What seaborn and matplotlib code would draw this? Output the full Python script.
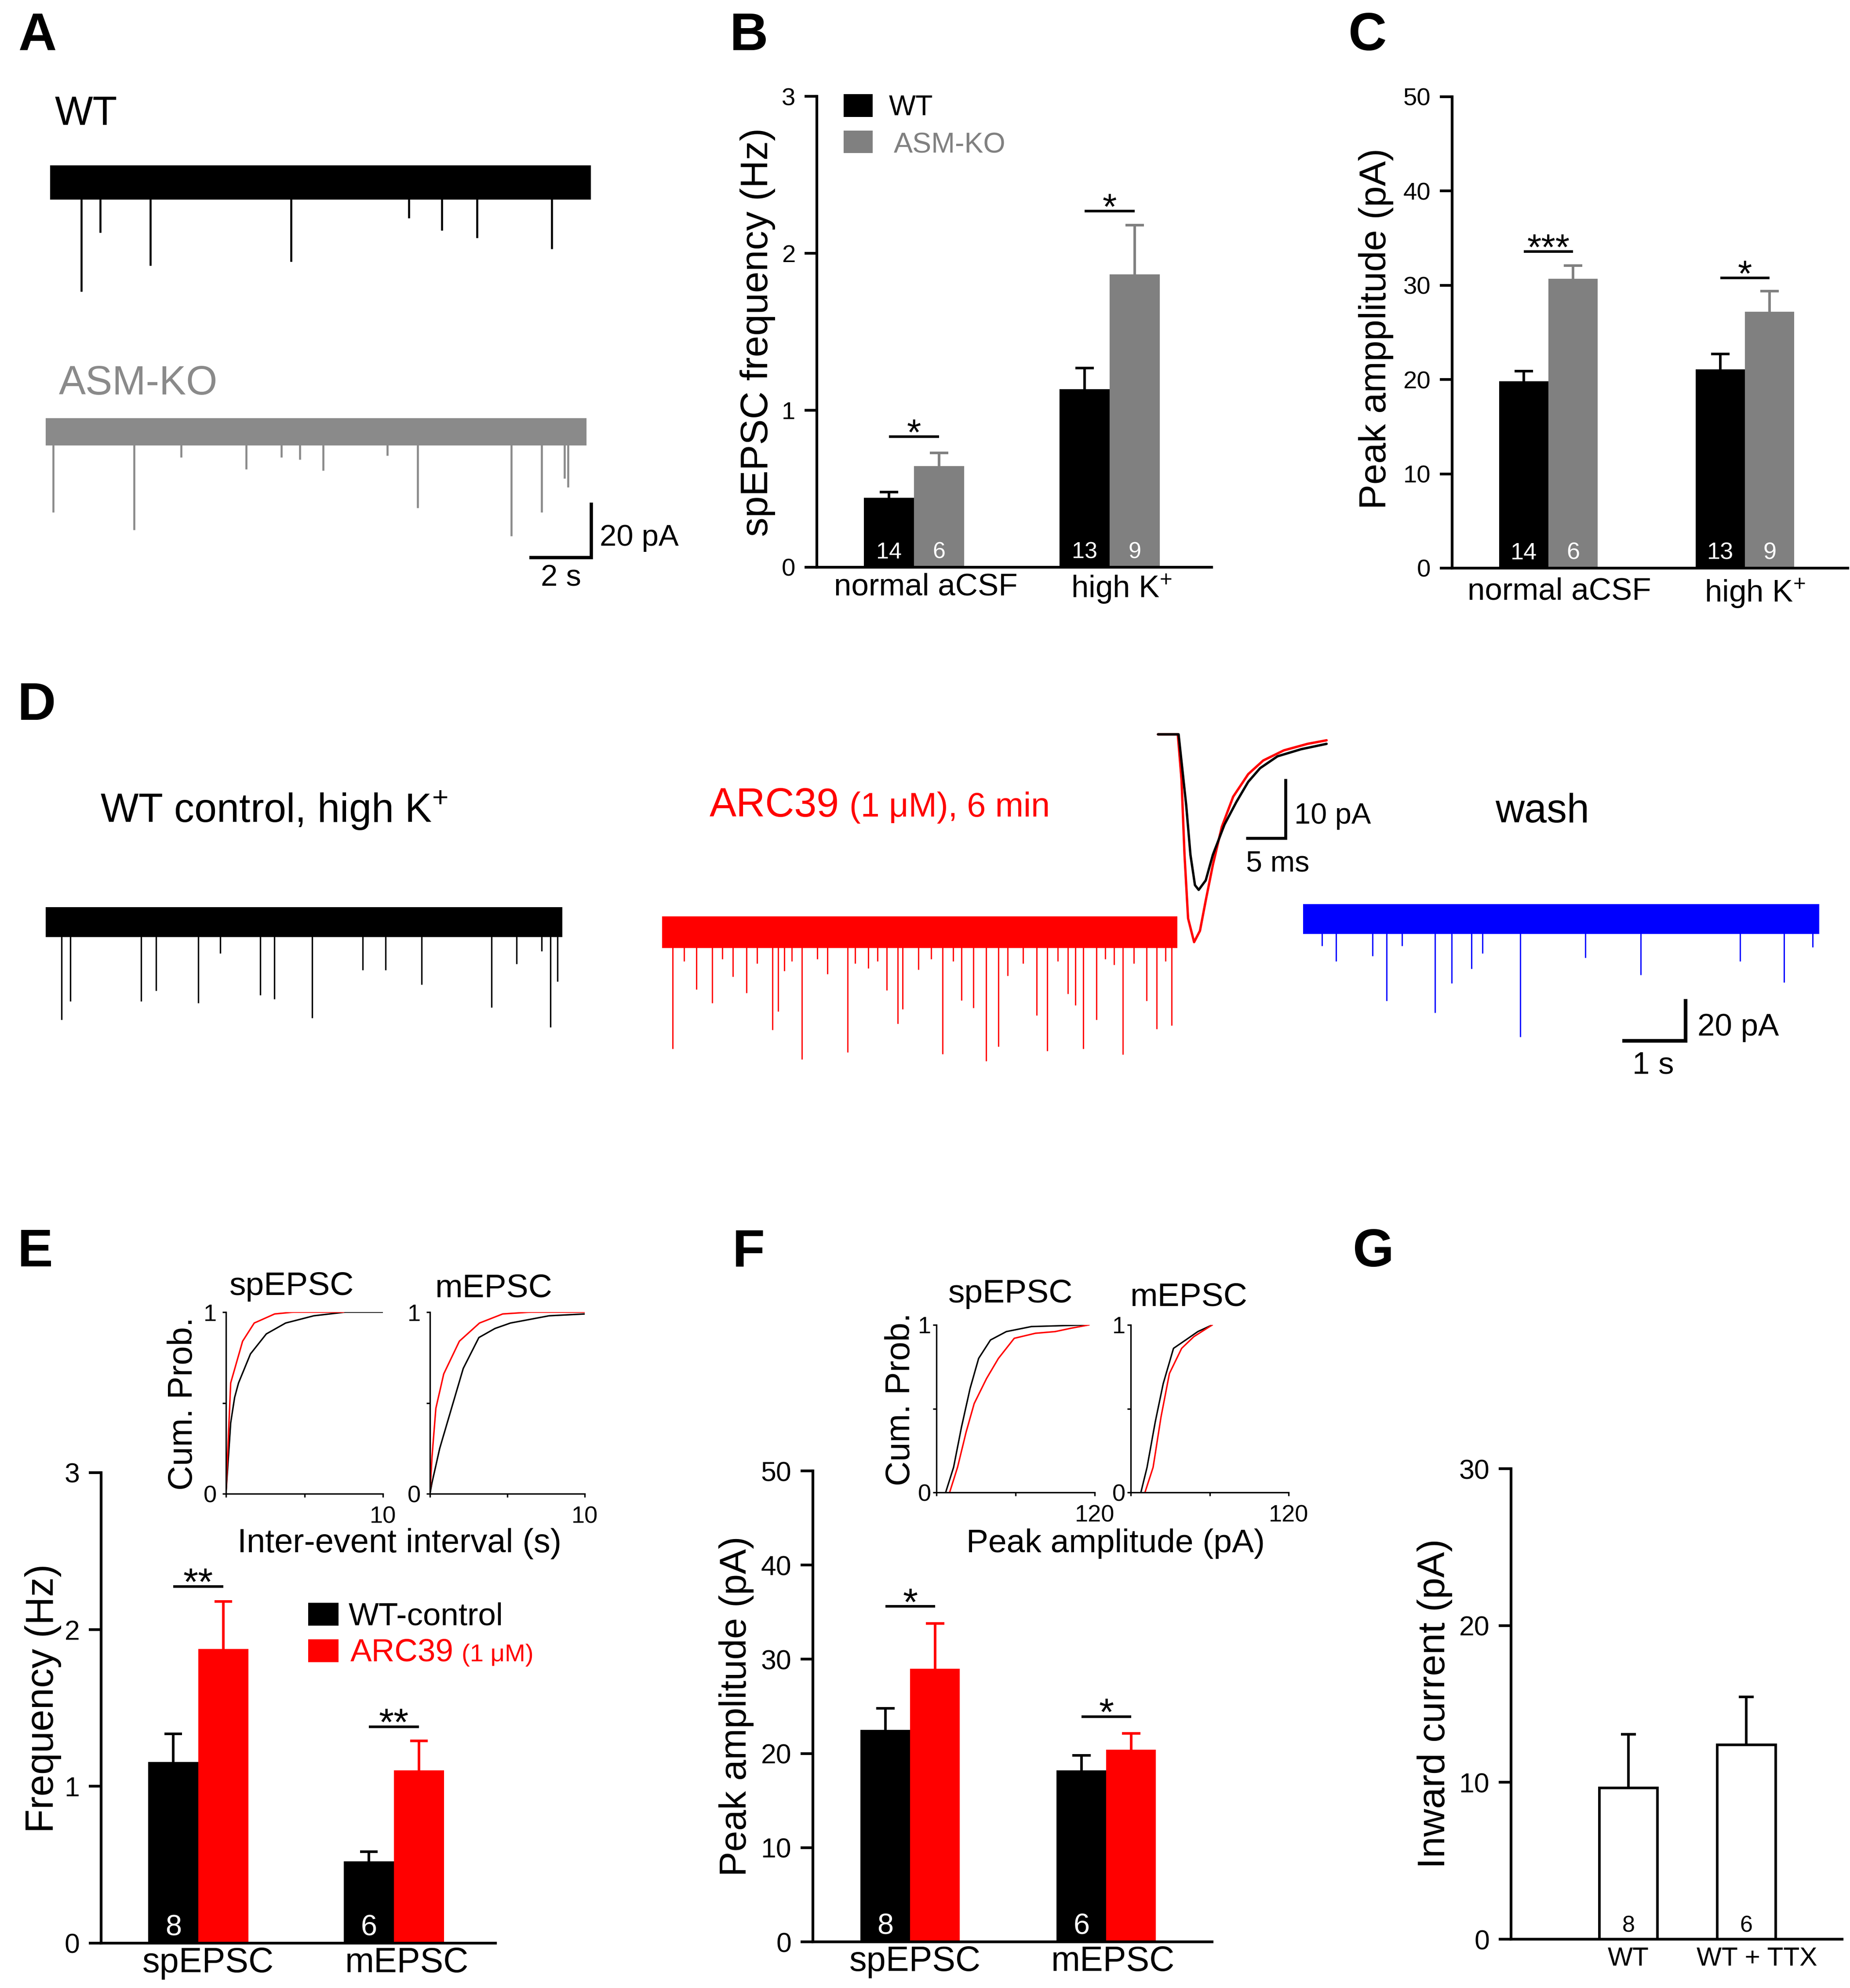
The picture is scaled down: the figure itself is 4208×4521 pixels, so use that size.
import numpy as np
import pandas as pd
import matplotlib
matplotlib.use("Agg")
import matplotlib.pyplot as plt
from matplotlib.patches import Rectangle
from matplotlib import font_manager
import seaborn as sns

# ======================= DATA =======================
# Panel A: spontaneous EPSC traces (time in s, event amplitude in pA below baseline)
A_DURATION_S = [17.45, 17.45]
A_NOISE_PA = [6.3, 5.0]
A_WT_T = [1.00, 1.61, 3.24, 7.78, 11.57, 12.64, 13.78, 16.19]
A_WT_AMP = [39.6, 18.2, 30.2, 28.8, 13.0, 17.5, 20.2, 24.2]
A_KO_T = [0.24, 2.86, 4.37, 6.47, 7.61, 8.20, 8.96, 11.03, 12.01, 15.03, 16.01, 16.74, 16.85]
A_KO_AMP = [29.3, 35.7, 9.3, 13.6, 9.3, 10.0, 14.0, 8.6, 27.6, 37.9, 29.3, 16.9, 20.1]

# Panel B: spEPSC frequency (Hz)
B_COND = ["normal aCSF", r"high K$^{+}$"]
B_GENO = ["WT", "ASM-KO"]
B_WT_MEAN = [0.443, 1.134]
B_WT_SEM = [0.037, 0.135]
B_KO_MEAN = [0.644, 1.866]
B_KO_SEM = [0.084, 0.314]
B_WT_N = ["14", "13"]
B_KO_N = ["6", "9"]
B_SIG = ["*", "*"]
B_SIG_Y = [0.832, 2.27]

# Panel C: peak amplitude (pA)
C_WT_MEAN = [19.8, 21.1]
C_WT_SEM = [1.1, 1.6]
C_KO_MEAN = [30.7, 27.2]
C_KO_SEM = [1.4, 2.2]
C_SIG = ["***", "*"]
C_SIG_Y = [33.6, 30.8]

# Panel D: traces (s, pA)
D_DURATION_S = [8.16, 8.14, 8.15]
D_NOISE_PA = [7.2, 7.6, 7.2]
D_CTRL_T = [0.25, 0.39, 1.51, 1.74, 2.41, 2.76, 3.39, 3.61, 4.21, 5.01, 5.37, 5.94, 7.04, 7.44, 7.83, 7.97, 8.08]
D_CTRL_AMP = [47, 38, 38, 33, 39, 15, 35, 37, 46, 23, 23, 30, 41, 20, 14, 50.5, 28.5]
D_ARC_T = [0.17, 0.35, 0.54, 0.79, 0.95, 1.12, 1.33, 1.50, 1.74, 1.83, 1.93, 2.05, 2.21, 2.45, 2.61,
           2.93, 3.05, 3.26, 3.40, 3.55, 3.72, 3.80, 4.05, 4.25, 4.43, 4.60, 4.73, 4.92, 5.12, 5.31,
           5.46, 5.70, 5.92, 6.08, 6.25, 6.41, 6.53, 6.65, 6.86, 7.00, 7.14, 7.28, 7.45, 7.65, 7.81,
           7.95, 8.05]
D_ARC_AMP = [56, 14, 27.4, 34, 13, 21.4, 29.2, 15, 47, 38, 18.6, 14, 61, 13, 20,
             57.7, 15, 17.3, 14, 28, 44, 37, 18, 13, 58.6, 14, 32.7, 36.4, 62, 55,
             21, 15, 40, 57, 14, 29.6, 35, 56, 42, 13, 15.6, 58.8, 15, 33, 46.5,
             14, 44.8]
D_WASH_T = [0.30, 0.52, 1.10, 1.32, 1.56, 2.08, 2.35, 2.66, 2.83, 3.43, 4.46, 5.33, 6.90, 7.60, 8.05]
D_WASH_AMP = [12.9, 20.4, 17.8, 39.3, 12.9, 45, 30.9, 23.9, 16.5, 56.7, 18.7, 26.8, 20.2, 30.4, 13.5]
# averaged EPSC (ms, pA)
EPSC_CTRL_MS = [0, 2.6, 3.56, 4.1, 4.67, 5.14, 6.03, 6.93, 8.4, 9.9, 11.4, 12.9, 15.1, 18.1, 21.3]
EPSC_CTRL_PA = [0, 0, -11.9, -20.3, -25.4, -26.2, -24.6, -20.3, -15.2, -11.4, -8.0, -5.7, -3.7, -2.5, -1.6]
EPSC_ARC_MS = [0, 2.5, 2.97, 3.35, 3.8, 4.56, 5.3, 6.03, 6.93, 8.06, 9.5, 11.4, 13.3, 15.9, 18.9, 21.3]
EPSC_ARC_PA = [0, 0, -7.6, -20.3, -31.0, -35.0, -33.1, -28.0, -22.0, -15.6, -10.5, -6.7, -4.4, -2.7, -1.6, -1.0]

# Panel E: frequency (Hz)
E_COND = ["spEPSC", "mEPSC"]
E_TREAT = ["WT-control", "ARC39"]
E_CTRL_MEAN = [1.155, 0.521]
E_CTRL_SEM = [0.179, 0.063]
E_ARC_MEAN = [1.877, 1.102]
E_ARC_SEM = [0.301, 0.188]
E_N = ["8", "6"]
E_SIG = ["**", "**"]
E_SIG_Y = [2.274, 1.38]
# cumulative inter-event interval (s, probability)
E_SP_CTRL_X = [0, 0.3, 0.55, 0.8, 1.56, 2.57, 3.8, 5.6, 7.6, 10]
E_SP_CTRL_Y = [0, 0.39, 0.53, 0.61, 0.77, 0.88, 0.94, 0.98, 1.0, 1.0]
E_SP_ARC_X = [0, 0.3, 1.06, 1.8, 3.1, 4.3, 7.5]
E_SP_ARC_Y = [0, 0.61, 0.84, 0.94, 0.99, 1.0, 1.0]
E_M_CTRL_X = [0, 0.13, 0.63, 1.39, 2.15, 3.16, 4.2, 5.2, 7.7, 10]
E_M_CTRL_Y = [0, 0.06, 0.25, 0.47, 0.69, 0.86, 0.91, 0.94, 0.98, 0.99]
E_M_ARC_X = [0, 0.13, 0.38, 0.89, 1.9, 3.2, 4.7, 6.5, 10]
E_M_ARC_Y = [0, 0.2, 0.47, 0.66, 0.84, 0.94, 0.99, 1.0, 1.0]

# Panel F: peak amplitude (pA)
F_CTRL_MEAN = [22.5, 18.2]
F_CTRL_SEM = [2.3, 1.6]
F_ARC_MEAN = [29.0, 20.4]
F_ARC_SEM = [4.8, 1.75]
F_N = ["8", "6"]
F_SIG = ["*", "*"]
F_SIG_Y = [35.6, 23.9]
F_SP_CTRL_X = [7, 13, 19, 25.5, 32, 41, 53, 72, 115]
F_SP_CTRL_Y = [0, 0.15, 0.39, 0.62, 0.80, 0.91, 0.96, 0.99, 1.0]
F_SP_ARC_X = [10, 16, 22.5, 28.6, 38, 47, 59, 75, 90, 102, 115.7]
F_SP_ARC_Y = [0, 0.15, 0.36, 0.53, 0.68, 0.80, 0.92, 0.95, 0.96, 0.98, 1.0]
F_M_CTRL_X = [7.7, 12.4, 18.6, 24.7, 32.5, 41.8, 51, 62]
F_M_CTRL_Y = [0, 0.15, 0.42, 0.65, 0.86, 0.91, 0.96, 1.0]
F_M_ARC_X = [10.8, 17, 23, 29.4, 38.7, 48, 62]
F_M_ARC_Y = [0, 0.15, 0.45, 0.71, 0.86, 0.93, 1.0]

# Panel G: inward current (pA)
G_COND = ["WT", "WT + TTX"]
G_MEAN = [9.64, 12.4]
G_SEM = [3.42, 3.04]
G_N = ["8", "6"]

# ======================= STYLE =======================
sns.set_theme(style="ticks", rc={"text.color": "black", "axes.labelcolor": "black",
                                 "xtick.color": "black", "ytick.color": "black",
                                 "axes.edgecolor": "black"})
plt.rcParams["font.family"] = ["Liberation Sans", "DejaVu Sans"]
plt.rcParams["mathtext.fontset"] = "custom"
plt.rcParams["mathtext.rm"] = "Liberation Sans"
plt.rcParams["mathtext.it"] = "Liberation Sans:italic"
plt.rcParams["mathtext.bf"] = "Liberation Sans:bold"

BLACK = "#000000"
GRAY = "#808080"
TRACE_GRAY = "#8a8a8a"
RED = "#ff0000"
BLUE = "#0000ff"

W, H = 4208, 4521
fig = plt.figure(figsize=(W / 300, H / 300), dpi=300)
fig.patch.set_facecolor("white")


def px_axes(x0, y0, x1, y1):
    return fig.add_axes([x0 / W, 1 - y1 / H, (x1 - x0) / W, (y1 - y0) / H])


def ftext(x, y, s, size, **kw):
    kw.setdefault("ha", "left")
    kw.setdefault("va", "baseline")
    return fig.text(x / W, 1 - y / H, s, fontsize=size, **kw)


def frect(x0, y0, x1, y1, color):
    fig.add_artist(Rectangle((x0 / W, 1 - y1 / H), (x1 - x0) / W, (y1 - y0) / H,
                             transform=fig.transFigure, facecolor=color, edgecolor="none"))


def trace_ax(rect, origin, ppx, ppy):
    x0, y0, x1, y1 = rect
    ox, oy = origin
    ax = px_axes(x0, y0, x1, y1)
    ax.set_xlim((x0 - ox) / ppx, (x1 - ox) / ppx)
    ax.set_ylim((oy - y1) / ppy, (oy - y0) / ppy)
    ax.axis("off")
    return ax


def draw_trace(ax, dur, noise, ev_t, ev_amp, color, lw):
    ax.fill_between([0, dur], [-noise, -noise], [noise, noise], color=color, lw=0)
    ax.vlines(ev_t, 0, -np.asarray(ev_amp, dtype=float), color=color, lw=lw, clip_on=False)


def scalebar(ax, x_end, y_top, dx, dy, lw):
    ax.plot([x_end - dx, x_end, x_end], [y_top - dy, y_top - dy, y_top], color="black",
            lw=lw, solid_joinstyle="miter", solid_capstyle="butt", clip_on=False)


def up_err(ax, x, m, e, color, cap):
    ax.vlines(x, m, m + e, color=color, lw=1.4, zorder=1)
    ax.hlines(m + e, x - cap, x + cap, color=color, lw=1.4, zorder=1)


def grouped_bars(ax, cond, groups, means, sems, ns, colors, width, cap=0.047):
    rows = []
    for gi, g in enumerate(groups):
        for ci, c in enumerate(cond):
            rows.append(dict(cond=c, grp=g, mean=means[gi][ci], sem=sems[gi][ci],
                             n=ns[gi][ci], ci=ci, gi=gi))
    df = pd.DataFrame(rows)
    sns.barplot(data=df, x="cond", y="mean", hue="grp", order=cond, hue_order=groups,
                palette=dict(zip(groups, colors)), width=width, saturation=1,
                errorbar=None, legend=False, ax=ax, linewidth=0)
    pats = sorted(ax.patches, key=lambda p: p.get_x())
    df = df.sort_values(["ci", "gi"]).reset_index(drop=True)
    df["x"] = [p.get_x() + p.get_width() / 2 for p in pats]
    for r in df.itertuples():
        up_err(ax, r.x, r.mean, r.sem, colors[r.gi], cap)
    return df


def sig(ax, x1, x2, y, s, size):
    ax.plot([x1, x2], [y, y], color="black", lw=1.4, solid_capstyle="butt")
    ax.annotate(s, xy=((x1 + x2) / 2, y), xytext=(0, -4.5), textcoords="offset points",
                ha="center", va="baseline", fontsize=size)


def nlabel(ax, x, s, color, size, off, weight="normal"):
    ax.annotate(s, xy=(x, 0), xytext=(0, off), textcoords="offset points", ha="center",
                va="baseline", fontsize=size, color=color, fontweight=weight)


def style_bar_ax(ax, ylim, yticks, xlim, labelsize, xlabsize, labels, label_shift, xpad=3):
    ax.set_ylim(*ylim)
    ax.set_yticks(yticks)
    ax.set_xticks(np.arange(len(labels)) + np.asarray(label_shift))
    ax.set_xticklabels(labels)
    ax.set_xlim(*xlim)
    sns.despine(ax=ax)
    for s in ["left", "bottom"]:
        ax.spines[s].set_linewidth(1.5)
    ax.tick_params(axis="y", left=True, direction="out", length=6.7, width=1.5,
                   labelsize=labelsize, pad=5)
    ax.tick_params(axis="x", bottom=False, length=0, labelsize=xlabsize, pad=xpad)
    ax.set_xlabel("")
    ax.set_ylabel("")
    ax.patch.set_alpha(0)


def inset(rect, xlim, xticks, xticklabels, curves, ypad):
    ax = px_axes(*rect)
    for xs, ys, c in curves:
        sns.lineplot(x=xs, y=ys, color=c, linewidth=0.8, ax=ax, estimator=None, sort=False)
    ax.set_xlim(*xlim)
    ax.set_ylim(0, 1)
    ax.set_xticks(xticks)
    ax.set_xticklabels(xticklabels)
    ax.set_yticks([0, 0.5, 1])
    ax.set_yticklabels(["0", "", "1"])
    sns.despine(ax=ax)
    for s in ["left", "bottom"]:
        ax.spines[s].set_linewidth(0.8)
    ax.tick_params(axis="both", direction="out", length=2, width=0.8, labelsize=13,
                   left=True, bottom=True)
    ax.tick_params(axis="x", pad=4.5)
    ax.tick_params(axis="y", pad=ypad)
    ax.patch.set_alpha(0)
    return ax


# ======================= PANEL LETTERS =======================
for lx, ly, L in [(42, 114, "A"), (1660, 114, "B"), (3067, 114, "C"), (40, 1637, "D"),
                  (40, 2880, "E"), (1666, 2880, "F"), (3077, 2880, "G")]:
    ftext(lx, ly, L, 29, fontweight="bold")

# ======================= PANEL A =======================
axA1 = trace_ax((100, 330, 1380, 700), (114, 415), 70.5, 6.25)
draw_trace(axA1, A_DURATION_S[0], A_NOISE_PA[0], A_WT_T, A_WT_AMP, BLACK, 1.1)
axA2 = trace_ax((90, 900, 1380, 1290), (103.6, 982), 70.5, 6.25)
draw_trace(axA2, A_DURATION_S[1], A_NOISE_PA[1], A_KO_T, A_KO_AMP, TRACE_GRAY, 1.1)
scalebar(axA2, 17.61, -25.76, 2, 20, 1.8)
ftext(125, 284, "WT", 22)
ftext(134, 897, "ASM-KO", 22, color=TRACE_GRAY)
ftext(1364, 1241, "20 pA", 16.5)
ftext(1230, 1333, "2 s", 16.5)

# ======================= PANEL B =======================
axB = px_axes(1858, 219, 2756, 1290)
dfB = grouped_bars(axB, B_COND, B_GENO, [B_WT_MEAN, B_KO_MEAN], [B_WT_SEM, B_KO_SEM],
                   [B_WT_N, B_KO_N], [BLACK, GRAY], 0.512)
style_bar_ax(axB, (0, 3), [0, 1, 2, 3], (-0.497, 1.521), 13.5, 17, B_COND, [0.06, 0.06])
for ci in range(2):
    xs = dfB[dfB.ci == ci].x.values
    sig(axB, xs[0], xs[1], B_SIG_Y[ci], B_SIG[ci], 20)
for r in dfB.itertuples():
    nlabel(axB, r.x, r.n, "white", 12.5, 4.8)
ftext(1724, 755, "spEPSC frequency (Hz)", 21, rotation=90, ha="center", va="center")
frect(1919, 214, 1985, 266, BLACK)
frect(1919, 297, 1985, 348, GRAY)
ftext(2022, 262, B_GENO[0], 15.5)
ftext(2033, 348, B_GENO[1], 15.5, color=GRAY)

# ======================= PANEL C =======================
axC = px_axes(3303, 220, 4203, 1292)
dfC = grouped_bars(axC, B_COND, B_GENO, [C_WT_MEAN, C_KO_MEAN], [C_WT_SEM, C_KO_SEM],
                   [B_WT_N, B_KO_N], [BLACK, GRAY], 0.502)
style_bar_ax(axC, (0, 50), [0, 10, 20, 30, 40, 50], (-0.49, 1.523), 13.5, 17, B_COND,
             [0.055, 0.05], xpad=5)
for ci in range(2):
    xs = dfC[dfC.ci == ci].x.values
    sig(axC, xs[0], xs[1], C_SIG_Y[ci], C_SIG[ci], 20)
for r in dfC.itertuples():
    nlabel(axC, r.x, r.n, "white", 13, 4.8)
ftext(3130, 748, "Peak ampplitude (pA)", 20.5, rotation=90, ha="center", va="center")

# ======================= PANEL D =======================
axD1 = trace_ax((90, 1980, 1320, 2400), (104, 2097), 144, 4.73)
draw_trace(axD1, D_DURATION_S[0], D_NOISE_PA[0], D_CTRL_T, D_CTRL_AMP, BLACK, 0.8)
axD2 = trace_ax((1490, 1990, 2700, 2460), (1506, 2120), 144, 4.73)
draw_trace(axD2, D_DURATION_S[1], D_NOISE_PA[1], D_ARC_T, D_ARC_AMP, RED, 0.7)
axD3 = trace_ax((2950, 1980, 4180, 2460), (2964, 2090), 144, 4.73)
draw_trace(axD3, D_DURATION_S[2], D_NOISE_PA[2], D_WASH_T, D_WASH_AMP, BLUE, 0.7)
scalebar(axD3, 6.04, -38.5, 1, 20, 2.0)
axDi = trace_ax((2600, 1620, 3060, 2180), (2634, 1670), 18, 13.5)
sns.lineplot(x=EPSC_ARC_MS, y=EPSC_ARC_PA, color=RED, linewidth=1.3, ax=axDi,
             estimator=None, sort=False)
sns.lineplot(x=EPSC_CTRL_MS, y=EPSC_CTRL_PA, color=BLACK, linewidth=1.3, ax=axDi,
             estimator=None, sort=False)
axDi.axis("off")
scalebar(axDi, 16.1, -7.48, 5, 10, 1.6)
ftext(228, 1870, r"WT control, high K$^{+}$", 22)
ftext(1614, 1857, "ARC39", 22, color=RED)
ftext(1932, 1857, "(1 \u03bcM), 6 min", 18.5, color=RED)
ftext(2944, 1873, "10 pA", 16)
ftext(2834, 1982, "5 ms", 16)
ftext(3401, 1870, "wash", 22)
ftext(3861, 2355, "20 pA", 17)
ftext(3713, 2441, "1 s", 17)

# ======================= PANEL E =======================
axE = px_axes(230, 3349, 1127, 4419)
dfE = grouped_bars(axE, E_COND, E_TREAT, [E_CTRL_MEAN, E_ARC_MEAN], [E_CTRL_SEM, E_ARC_SEM],
                   [E_N, ["", ""]], [BLACK, RED], 0.512, cap=0.045)
style_bar_ax(axE, (0, 3), [0, 1, 2, 3], (-0.497, 1.519), 15, 19, E_COND, [0.05, 0.065], xpad=2)
for ci in range(2):
    xs = dfE[dfE.ci == ci].x.values
    sig(axE, xs[0], xs[1], E_SIG_Y[ci], E_SIG[ci], 21)
for r in dfE.itertuples():
    if r.n:
        nlabel(axE, r.x, r.n, "white", 16, 4.3)
ftext(98, 3862, "Frequency (Hz)", 21.3, rotation=90, ha="center", va="center")
frect(701, 3645, 770, 3697, BLACK)
frect(701, 3728, 770, 3780, RED)
ftext(793, 3696, E_TREAT[0], 17.5)
ftext(797, 3778, E_TREAT[1], 17.5, color=RED)
ftext(1050, 3778, "(1 \u03bcM)", 13.5, color=RED)

inset((514, 2984, 871, 3397), (0, 10), [0, 5, 10], ["", "", "10"],
      [(E_SP_CTRL_X, E_SP_CTRL_Y, BLACK), (E_SP_ARC_X, E_SP_ARC_Y, RED)], 3)
inset((978, 2984, 1330, 3397), (0, 10), [0, 5, 10], ["", "", "10"],
      [(E_M_CTRL_X, E_M_CTRL_Y, BLACK), (E_M_ARC_X, E_M_ARC_Y, RED)], 3)
ftext(664, 2945, "spEPSC", 18, ha="center")
ftext(1123, 2950, "mEPSC", 18, ha="center")
ftext(416, 3192, "Cum. Prob.", 18.7, rotation=90, ha="center", va="center")
ftext(909, 3530, "Inter-event interval (s)", 18.2, ha="center")

# ======================= PANEL F =======================
axF = px_axes(1849, 3345, 2757, 4416)
dfF = grouped_bars(axF, E_COND, E_TREAT, [F_CTRL_MEAN, F_ARC_MEAN], [F_CTRL_SEM, F_ARC_SEM],
                   [F_N, ["", ""]], [BLACK, RED], 0.507)
style_bar_ax(axF, (0, 50), [0, 10, 20, 30, 40, 50], (-0.496, 1.540), 15, 19, E_COND,
             [0.025, 0.035], xpad=2)
for ci in range(2):
    xs = dfF[dfF.ci == ci].x.values
    sig(axF, xs[0], xs[1], F_SIG_Y[ci], F_SIG[ci], 21)
for r in dfF.itertuples():
    if r.n:
        nlabel(axF, r.x, r.n, "white", 16, 4.3)
ftext(1675, 3880, "Peak amplitude (pA)", 20.5, rotation=90, ha="center", va="center")
inset((2130, 3013, 2490, 3394), (0, 120), [0, 60, 120], ["", "", "120"],
      [(F_SP_CTRL_X, F_SP_CTRL_Y, BLACK), (F_SP_ARC_X, F_SP_ARC_Y, RED)], 1)
inset((2572, 3013, 2931, 3394), (0, 120), [0, 60, 120], ["", "", "120"],
      [(F_M_CTRL_X, F_M_CTRL_Y, BLACK), (F_M_ARC_X, F_M_ARC_Y, RED)], 1)
ftext(2299, 2962, "spEPSC", 18, ha="center")
ftext(2704, 2970, "mEPSC", 18, ha="center")
ftext(2048, 3182, "Cum. Prob.", 18.7, rotation=90, ha="center", va="center")
ftext(2537, 3530, "Peak amplitude (pA)", 18, ha="center")

# ======================= PANEL G =======================
axG = px_axes(3437, 3340, 4190, 4410)
sns.barplot(x=G_COND, y=G_MEAN, color="white", edgecolor="black", linewidth=1.4,
            width=0.496, saturation=1, errorbar=None, ax=axG)
gx = sorted([p.get_x() + p.get_width() / 2 for p in axG.patches])
for x, m, e, n in zip(gx, G_MEAN, G_SEM, G_N):
    up_err(axG, x, m, e, "black", 0.065)
    nlabel(axG, x, n, "black", 12.5, 4.0)
style_bar_ax(axG, (0, 30), [0, 10, 20, 30], (-0.996, 1.813), 15, 14.5, G_COND, [0.0, 0.09],
             xpad=4)
names = {f.name for f in font_manager.fontManager.ttflist}
if "Liberation Sans Narrow" in names:
    ftext(3264, 3874, "Inward current (pA)", 24, rotation=90, ha="center", va="center",
          family=["Liberation Sans Narrow", "DejaVu Sans"])
else:
    ftext(3264, 3874, "Inward current (pA)", 21, rotation=90, ha="center", va="center")

fig.savefig("out.png", dpi=300, facecolor="white")
